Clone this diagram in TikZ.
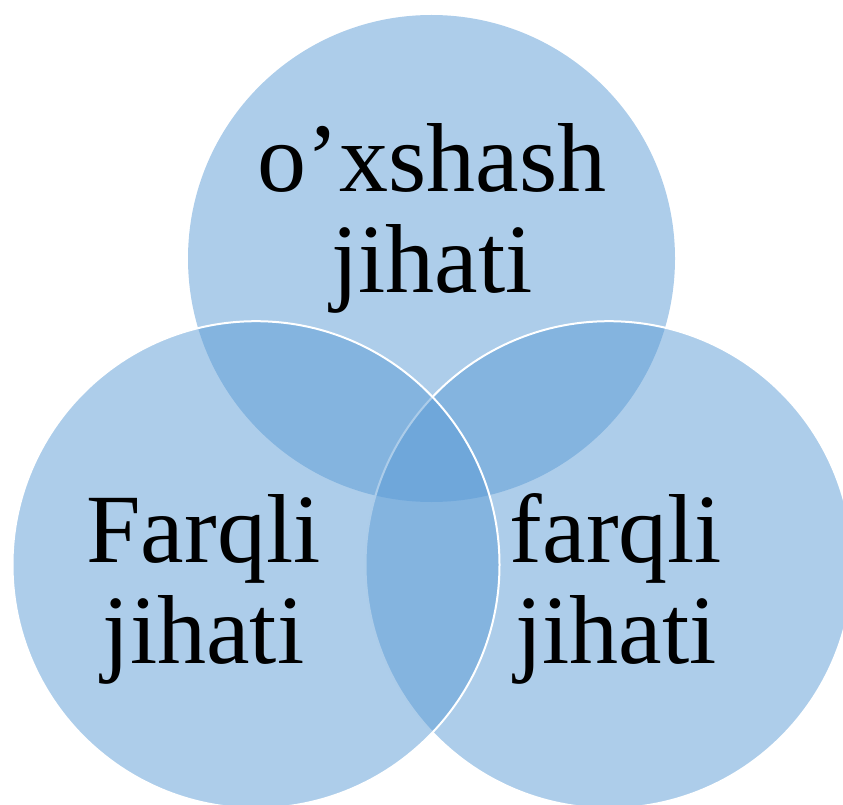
\documentclass[tikz,border=0pt]{standalone}
\usepackage{fontspec}
\setmainfont{Liberation Serif}
\definecolor{vennblue}{HTML}{5B9BD5}
\tikzset{
    circ/.style={circle, draw=white, line width=2pt, fill=vennblue, fill opacity=0.5, minimum size=487pt, inner sep=0pt},
    words/.style={align=center, font=\fontsize{98}{101}\selectfont}
}

\begin{document}
\begin{tikzpicture}
  [
    x = 1pt,
    y = -1pt,
  ]
  \useasboundingbox (0,0) rectangle (843,805);
  \clip (0,0) rectangle (843,805);
  \node [circ, draw=none] (top) at (431.5,258.5) {};
  \node [circ] (right) at (609,564.7) {};
  \node [circ] (left) at (256,564.7) {};
  \node [words] (toptext) at (432,218) {o’xshash\\jihati};
  \node [words] (lefttext) at (203.5,589) {Farqli\\jihati};
  \node [words] (righttext) at (616,589) {farqli\\jihati};
\end{tikzpicture}
\end{document}
